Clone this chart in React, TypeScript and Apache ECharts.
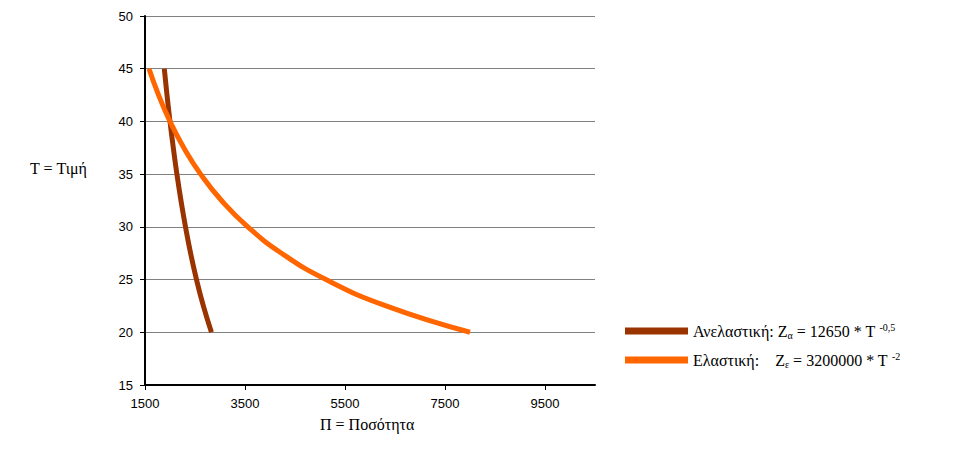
import React, { useEffect, useRef } from "react";
import * as echarts from "echarts";

// Price levels (T) and quantities (Π)
const prices = [20, 22.5, 25, 27.5, 30, 32.5, 35, 37.5, 40, 42.5, 45];
const inelasticQty = [2829, 2667, 2530, 2412, 2310, 2219, 2138, 2066, 2000, 1940, 1886];
const elasticQty = [8000, 6321, 5120, 4231, 3556, 3030, 2612, 2276, 2000, 1772, 1580];
const seriesNames = ["Ανελαστική", "Ελαστική"];
const xTicks = { min: 1500, max: 10500, interval: 2000 };
const yTicks = { min: 15, max: 50, interval: 5 };

export default function App() {
  const ref = useRef<HTMLDivElement>(null);
  useEffect(() => {
    if (!ref.current) return;
    const chart = echarts.init(ref.current, undefined, { renderer: "svg" });
    const serif = "serif";
    const sans = "Liberation Sans";
    chart.setOption({
      animation: false,
      backgroundColor: "#ffffff",
      grid: { left: 145, top: 16, right: 369, bottom: 78, containLabel: false },
      xAxis: {
        type: "value",
        min: xTicks.min,
        max: xTicks.max,
        interval: xTicks.interval,
        axisLine: { show: true, lineStyle: { color: "#000", width: 2 } },
        axisTick: { show: true, length: 5, lineStyle: { color: "#000", width: 1 } },
        axisLabel: {
          color: "#000",
          fontFamily: sans,
          fontSize: 13,
          margin: 12,
          showMaxLabel: false,
          formatter: (v: number) => String(v),
        },
        splitLine: { show: false },
      },
      yAxis: {
        type: "value",
        min: yTicks.min,
        max: yTicks.max,
        interval: yTicks.interval,
        axisLine: { show: true, lineStyle: { color: "#000", width: 2 } },
        axisTick: { show: true, length: 5, lineStyle: { color: "#000", width: 1 } },
        axisLabel: { color: "#000", fontFamily: sans, fontSize: 13, margin: 12 },
        splitLine: { show: true, lineStyle: { color: "#808080", width: 1 } },
      },
      legend: {
        orient: "vertical",
        left: 620,
        top: 317,
        itemWidth: 63,
        itemHeight: 7,
        itemGap: 11,
        icon: "rect",
        data: seriesNames,
        formatter: (name: string) =>
          name === seriesNames[0]
            ? "{t|Ανελαστική: Z}{sub|α}{t| = 12650 * T }{sup|-0,5}"
            : "{t|Ελαστική:    Z}{sub|ε}{t| = 3200000 * T }{sup|-2}",
        textStyle: {
          color: "#000",
          fontFamily: serif,
          fontSize: 16,
          rich: {
            t: { fontFamily: serif, fontSize: 16, color: "#000", lineHeight: 18 },
            sub: { fontFamily: serif, fontSize: 10, color: "#000", verticalAlign: "bottom", lineHeight: 18, padding: [6, 0, 0, 0] },
            sup: { fontFamily: serif, fontSize: 10, color: "#000", verticalAlign: "top", lineHeight: 18, padding: [0, 0, 8, 0] },
          },
        },
      },
      series: [
        {
          name: seriesNames[0],
          type: "line",
          smooth: true,
          showSymbol: false,
          color: "#993300",
          lineStyle: { color: "#993300", width: 5 },
          data: prices.map((p, i) => [inelasticQty[i], p]),
        },
        {
          name: seriesNames[1],
          type: "line",
          smooth: true,
          showSymbol: false,
          color: "#FF6600",
          lineStyle: { color: "#FF6600", width: 5 },
          data: prices.map((p, i) => [elasticQty[i], p]),
        },
      ],
      graphic: [
        {
          type: "text",
          left: 30,
          top: 160,
          style: { text: "T = Τιμή", fontFamily: serif, fontSize: 16, fill: "#000" },
        },
        {
          type: "text",
          left: 320,
          top: 416,
          style: { text: "Π = Ποσότητα", fontFamily: serif, fontSize: 16, fill: "#000" },
        },
      ],
    });
    return () => chart.dispose();
  }, []);
  return (
    <div
      ref={ref}
      style={{ position: "absolute", left: 0, top: 0, width: 964, height: 463 }}
    />
  );
}
